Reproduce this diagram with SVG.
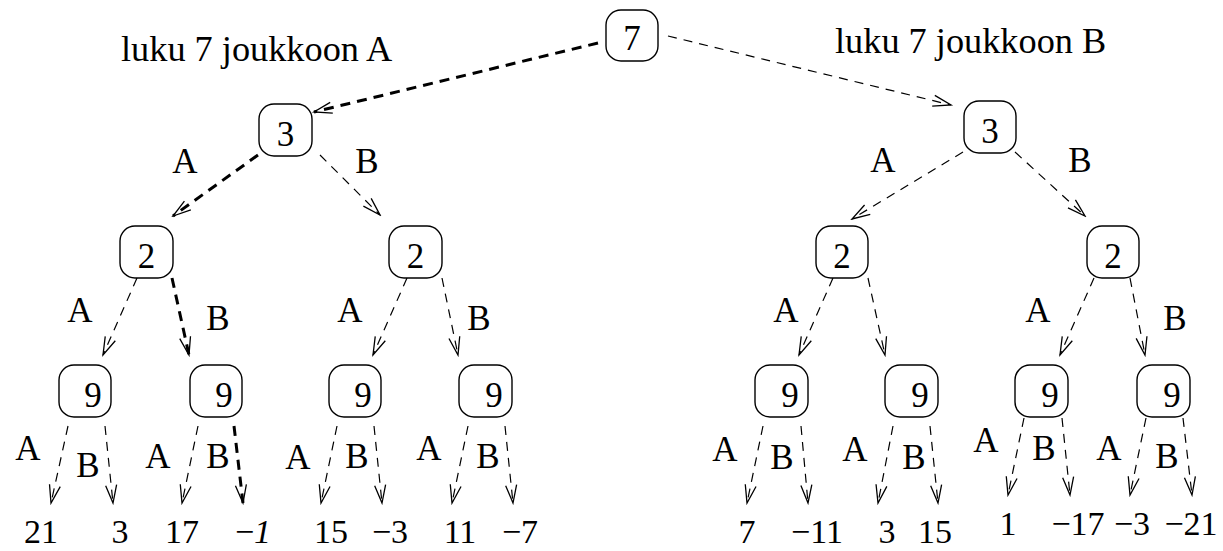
<svg xmlns="http://www.w3.org/2000/svg" width="1223" height="551" viewBox="0 0 1223 551">
<style>
.box{fill:#fff;stroke:#000;stroke-width:1.4}
.t{font-family:"Liberation Serif","Times New Roman",serif;font-size:35px;fill:#000;text-anchor:middle}
.lf{font-family:"Liberation Serif","Times New Roman",serif;font-size:34px;fill:#000;text-anchor:middle}
.lbl{font-family:"Liberation Serif","Times New Roman",serif;font-size:35px;fill:#000;text-anchor:middle}
.big{font-family:"Liberation Serif","Times New Roman",serif;font-size:36.3px;fill:#000}
.e{fill:none;stroke:#000;stroke-width:1.2;stroke-dasharray:9 7;marker-end:url(#ah)}
.k{fill:none;stroke:#000;stroke-width:3;stroke-dasharray:10 7;marker-end:url(#ah)}
</style>
<defs>
<marker id="ah" markerUnits="userSpaceOnUse" viewBox="-20 -8 22 16" refX="0" refY="0" markerWidth="22" markerHeight="16" orient="auto">
<path d="M-18,-5.5 L0,0 L-18,5.5" fill="none" stroke="#000" stroke-width="1.3"/>
</marker>
</defs>
<rect width="1223" height="551" fill="#fff"/>
<text class="big" x="121" y="61">luku 7 joukkoon A</text>
<text class="big" x="835" y="53">luku 7 joukkoon B</text>
<g id="connectors">
<path class="k" d="M598,43 L314,112"/>
<path class="e" d="M668,36 L951,105"/>
<path class="k" d="M258,155 L173,216"/>
<path class="e" d="M320,155 L380,215"/>
<path class="e" d="M963,152 L852,219"/>
<path class="e" d="M1015,152 L1085,216"/>
<path class="e" d="M137,278 L103,355"/>
<path class="k" d="M172,278 L189,355"/>
<path class="e" d="M407,278 L373,355"/>
<path class="e" d="M442,278 L458,355"/>
<path class="e" d="M833,278 L799,355"/>
<path class="e" d="M868,278 L885,355"/>
<path class="e" d="M1094,278 L1060,355"/>
<path class="e" d="M1130,278 L1145,355"/>
<path class="e" d="M68,426 L51,503"/>
<path class="e" d="M105,426 L113,503"/>
<path class="e" d="M198,426 L182,503"/>
<path class="k" d="M234,426 L243,503"/>
<path class="e" d="M337,426 L321,503"/>
<path class="e" d="M374,426 L382,503"/>
<path class="e" d="M468,426 L452,503"/>
<path class="e" d="M505,426 L513,503"/>
<path class="e" d="M763,426 L747,503"/>
<path class="e" d="M801,426 L808,503"/>
<path class="e" d="M893,426 L878,503"/>
<path class="e" d="M930,426 L938,503"/>
<path class="e" d="M1024,418 L1008,495"/>
<path class="e" d="M1062,418 L1070,495"/>
<path class="e" d="M1146,418 L1130,495"/>
<path class="e" d="M1183,418 L1192,495"/>
</g>
<g id="edge-labels">
<text class="lbl" x="185" y="173">A</text><text class="lbl" x="367" y="173">B</text>
<text class="lbl" x="883" y="172">A</text><text class="lbl" x="1080" y="172">B</text>
<text class="lbl" x="80" y="322">A</text><text class="lbl" x="218" y="330">B</text>
<text class="lbl" x="350" y="322">A</text><text class="lbl" x="479" y="330">B</text>
<text class="lbl" x="786" y="322">A</text>
<text class="lbl" x="1038" y="322">A</text><text class="lbl" x="1175" y="330">B</text>
<text class="lbl" x="28" y="460">A</text><text class="lbl" x="88" y="477">B</text>
<text class="lbl" x="158" y="468">A</text><text class="lbl" x="218" y="468">B</text>
<text class="lbl" x="298" y="469">A</text><text class="lbl" x="357" y="468">B</text>
<text class="lbl" x="429" y="460">A</text><text class="lbl" x="488" y="468">B</text>
<text class="lbl" x="725" y="461">A</text><text class="lbl" x="782" y="469">B</text>
<text class="lbl" x="855" y="461">A</text><text class="lbl" x="914" y="469">B</text>
<text class="lbl" x="986" y="452">A</text><text class="lbl" x="1044" y="460">B</text>
<text class="lbl" x="1109" y="460">A</text><text class="lbl" x="1167" y="468">B</text>
</g>
<g id="n7"><rect class="box" x="606" y="10" width="52" height="51" rx="15"/><text class="t" x="632" y="50">7</text></g>
<g id="nA3"><rect class="box" x="259" y="104" width="53" height="52" rx="15"/><text class="t" x="285.5" y="146">3</text></g>
<g id="nB3"><rect class="box" x="964" y="101" width="52" height="52" rx="15"/><text class="t" x="990" y="143">3</text></g>
<g id="nAA2"><rect class="box" x="120" y="226" width="53" height="52" rx="15"/><text class="t" x="146.5" y="268">2</text></g>
<g id="nAB2"><rect class="box" x="389" y="226" width="53" height="52" rx="15"/><text class="t" x="415.5" y="268">2</text></g>
<g id="nBA2"><rect class="box" x="816" y="226" width="52" height="52" rx="15"/><text class="t" x="842" y="268">2</text></g>
<g id="nBB2"><rect class="box" x="1087" y="226" width="52" height="52" rx="15"/><text class="t" x="1113" y="268">2</text></g>
<g id="n9a"><rect class="box" x="59" y="365" width="52" height="52" rx="15"/><text class="t" x="93" y="407">9</text></g>
<g id="n9b"><rect class="box" x="190" y="365" width="52" height="52" rx="15"/><text class="t" x="224" y="407">9</text></g>
<g id="n9c"><rect class="box" x="329" y="365" width="52" height="52" rx="15"/><text class="t" x="363" y="407">9</text></g>
<g id="n9d"><rect class="box" x="459" y="365" width="53" height="52" rx="15"/><text class="t" x="494" y="407">9</text></g>
<g id="n9e"><rect class="box" x="755" y="365" width="53" height="52" rx="15"/><text class="t" x="790" y="407">9</text></g>
<g id="n9f"><rect class="box" x="885" y="365" width="53" height="52" rx="15"/><text class="t" x="920" y="407">9</text></g>
<g id="n9g"><rect class="box" x="1015" y="365" width="53" height="52" rx="15"/><text class="t" x="1050" y="407">9</text></g>
<g id="n9h"><rect class="box" x="1137" y="365" width="53" height="52" rx="15"/><text class="t" x="1172" y="407">9</text></g>
<g id="leaves">
<text class="lf" x="41" y="543">21</text>
<text class="lf" x="120" y="543">3</text>
<text class="lf" x="182" y="543">17</text>
<text class="lf" x="253" y="543">−<tspan font-style="italic">1</tspan></text>
<text class="lf" x="331" y="543">15</text>
<text class="lf" x="390" y="543">−3</text>
<text class="lf" x="460" y="543">11</text>
<text class="lf" x="520" y="543">−7</text>
<text class="lf" x="747" y="543">7</text>
<text class="lf" x="817" y="543">−11</text>
<text class="lf" x="887" y="543">3</text>
<text class="lf" x="935" y="543">15</text>
<text class="lf" x="1008" y="535">1</text>
<text class="lf" x="1078" y="535">−17</text>
<text class="lf" x="1132" y="535">−3</text>
<text class="lf" x="1191" y="535">−21</text>
</g>
</svg>
